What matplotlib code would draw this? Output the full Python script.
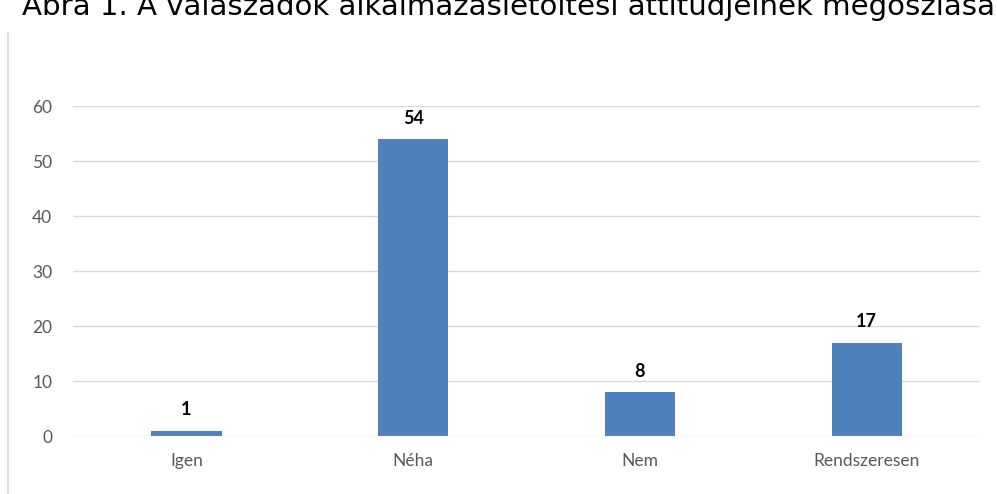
import matplotlib.pyplot as plt
from matplotlib.lines import Line2D

categories = ["Igen", "Néha", "Nem", "Rendszeresen"]
values = [1, 54, 8, 17]
yticks = [0, 10, 20, 30, 40, 50, 60]
title = "Ábra 1. A válaszadók alkalmazásletöltési attitűdjeinek megoszlása"

plt.rcParams['font.family'] = ['Lato', 'DejaVu Sans']

fig = plt.figure(figsize=(9.97, 4.94), dpi=100)
ax = fig.add_axes([0.0732, 0.1174, 0.9098, 0.668])

x = range(len(categories))
bars = ax.bar(x, values, width=0.31, color="#4F81BD", zorder=3)

for b, v in zip(bars, values):
    ax.annotate(str(v), (b.get_x() + b.get_width() / 2, v), xytext=(0, 9),
                textcoords="offset points", ha="center", va="bottom",
                fontsize=13, fontweight="bold", color="black")

ax.set_xlim(-0.5, 3.5)
ax.set_ylim(0, 60)
ax.set_yticks(yticks)
ax.set_xticks(list(x))
ax.set_xticklabels(categories)
ax.grid(axis="y", color="#D9D9D9", linewidth=1, zorder=0)
for s in ax.spines.values():
    s.set_visible(False)
ax.tick_params(length=0, labelsize=12.5, labelcolor="#595959")
ax.tick_params(axis="y", pad=15)
ax.tick_params(axis="x", pad=12)

# left border of the chart frame
fig.add_artist(Line2D([8 / 997, 8 / 997], [0, 1 - 33 / 494], color="#D9D9D9", linewidth=1.2))

# title, clipped at the top of the image like the reference
fig.text(22 / 997, 1 - 15 / 494, title, fontsize=21.1, family="DejaVu Sans",
         ha="left", va="baseline", color="black")

fig.savefig("out.png", dpi=100)
